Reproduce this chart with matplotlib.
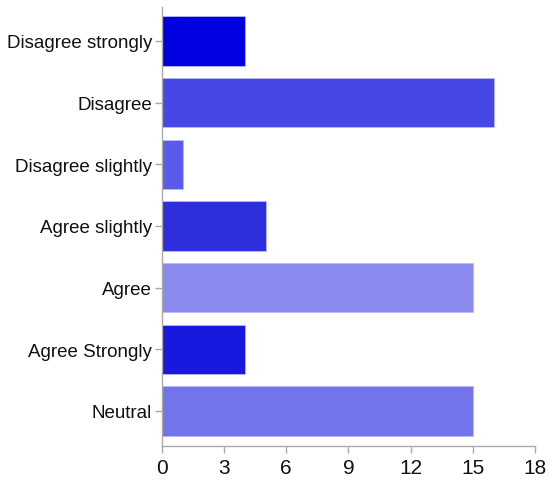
import matplotlib.pyplot as plt
import numpy as np
from matplotlib import font_manager

categories = ['Disagree strongly', 'Disagree', 'Disagree slightly', 'Agree slightly',
              'Agree', 'Agree Strongly', 'Neutral']
counts = [4, 16, 1, 5, 15, 4, 15]
colors = ['#0000E0', '#4747E6', '#5B5BEB', '#2E2EDD', '#8B8BEF', '#1818DF', '#7373EA']

names = {f.name for f in font_manager.fontManager.ttflist}
family = 'Liberation Sans Narrow' if 'Liberation Sans Narrow' in names else 'Liberation Sans'
plt.rcParams['font.family'] = [family, 'DejaVu Sans']

fig = plt.figure(figsize=(5.49, 4.81), dpi=100)
ax = fig.add_axes([0.295, 0.0707, 0.6794, 0.9127])

y = np.arange(len(categories))
ax.barh(y, counts, height=0.8, color=colors, edgecolor='#b8b8f8', linewidth=0.6)

ax.set_ylim(len(categories) - 0.43, -0.55)
ax.set_xlim(0, 18)
ax.set_xticks(np.arange(0, 19, 3))
ax.set_yticks(y)
ax.set_yticklabels(categories)

for s in ['top', 'right']:
    ax.spines[s].set_visible(False)
for s in ['left', 'bottom']:
    ax.spines[s].set_color('#aaaaaa')
    ax.spines[s].set_linewidth(1)
ax.tick_params(axis='both', colors='#aaaaaa', labelcolor='#111111', length=5, width=1)
ax.tick_params(axis='y', labelsize=13.5, pad=2)
ax.tick_params(axis='x', labelsize=15, pad=4)

fig.savefig('out.png', dpi=100)
